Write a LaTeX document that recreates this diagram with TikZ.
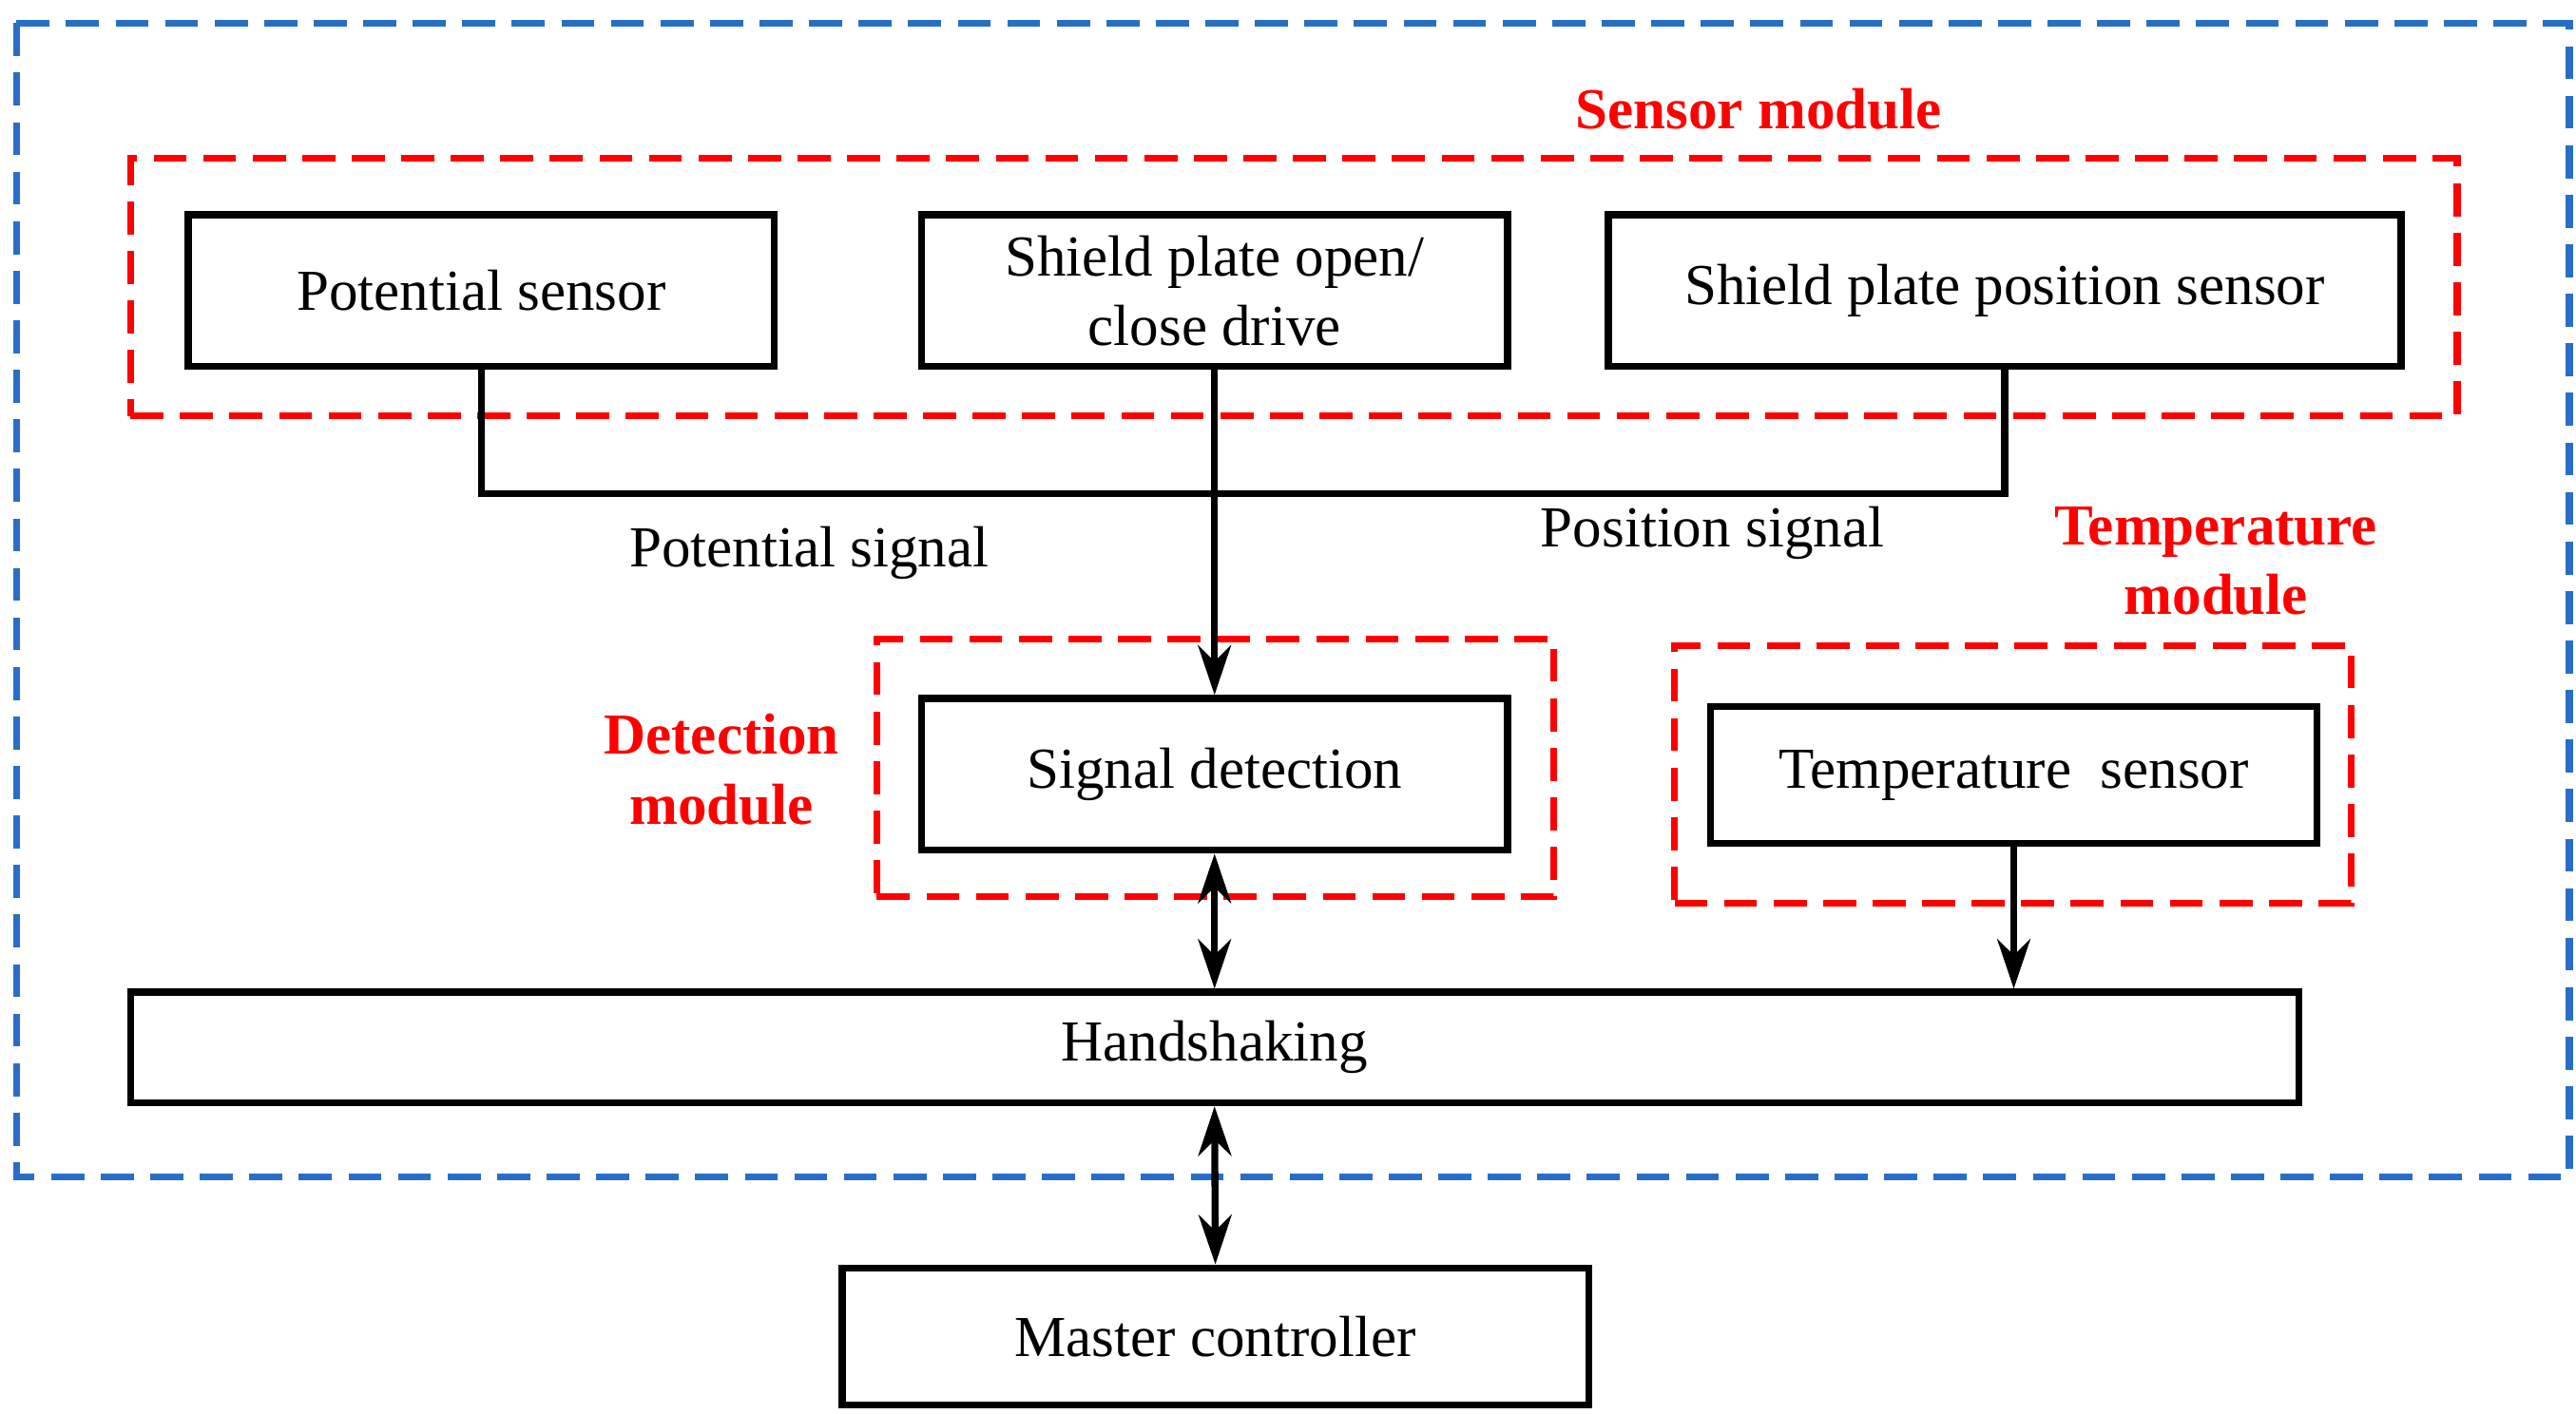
\documentclass[tikz,border=0pt]{standalone}
\usepackage{fontspec}
\setmainfont{Liberation Serif}
\usetikzlibrary{arrows.meta}
\definecolor{modred}{RGB}{255,0,0}
\definecolor{frameblue}{RGB}{40,110,200}
\tikzset{
	block/.style = {draw=black, line width=1.2pt, fill=white, align=center, font=\fontsize{10}{12}\selectfont},
	module/.style = {draw=modred, line width=1.2pt, dash pattern=on 0.2cm off 0.1cm},
	modlabel/.style = {text=modred, font=\fontsize{10}{12}\selectfont\bfseries, align=center},
	sig/.style = {font=\fontsize{10}{12}\selectfont},
	arrow/.style = {line width=1.2pt, -{Stealth[length=3mm,width=2mm]}},
	darrow/.style = {line width=1.2pt, {Stealth[length=3mm,width=2mm]}-{Stealth[length=3mm,width=2mm]}},
}
\begin{document}
\begin{tikzpicture}
	\useasboundingbox (0,0) rectangle (15.6,-8.56);
	% outer frame
	\draw[frameblue, line width=1.2pt, dash pattern=on 0.2cm off 0.1cm] (0.10,-0.14) rectangle (15.56,-7.13);
	% module frames
	\node (sensmod) [module, minimum width=14.09cm, minimum height=1.56cm] at (7.835,-1.74) {};
	\node (detmod) [module, minimum width=4.10cm, minimum height=1.56cm] at (7.36,-4.65) {};
	\node (tempmod) [module, minimum width=4.10cm, minimum height=1.56cm] at (12.19,-4.69) {};
	\node (sensmodlbl) [modlabel] at (10.65,-0.66) {Sensor module};
	\node (detmodlbl) [modlabel] at (4.37,-4.66) {Detection\\module};
	\node (tempmodlbl) [modlabel] at (13.42,-3.40) {Temperature\\module};
	% blocks
	\node (pot) [block, minimum width=3.55cm, minimum height=0.92cm] at (2.915,-1.76) {Potential sensor};
	\node (drive) [block, minimum width=3.55cm, minimum height=0.92cm] at (7.355,-1.76) {Shield plate open/\\close drive};
	\node (pos) [block, minimum width=4.80cm, minimum height=0.92cm] at (12.14,-1.76) {Shield plate position sensor};
	\node (det) [block, minimum width=3.55cm, minimum height=0.92cm] at (7.355,-4.69) {Signal detection};
	\node (temp) [block, minimum width=3.67cm, minimum height=0.83cm] at (12.195,-4.695) {Temperature\ \ sensor};
	\node (hand) [block, minimum width=13.13cm, minimum height=0.67cm] at (7.355,-6.345) {Handshaking};
	\node (master) [block, minimum width=4.52cm, minimum height=0.83cm] at (7.36,-8.095) {Master controller};
	% signal labels
	\node (potsig) [sig] at (4.90,-3.35) {Potential signal};
	\node (possig) [sig] at (10.37,-3.23) {Position signal};
	% connectors
	\draw[line width=1.2pt] (pot.south) -- ++(0,-0.75) -| (pos.south);
	\draw[arrow] (drive.south) -- (det.north);
	\draw[arrow] (temp.south) -- (temp.south |- hand.north);
	\draw[darrow] (det.south) -- (hand.north -| det.south);
	\draw[darrow] (hand.south) -- (master.north);
\end{tikzpicture}
\end{document}
